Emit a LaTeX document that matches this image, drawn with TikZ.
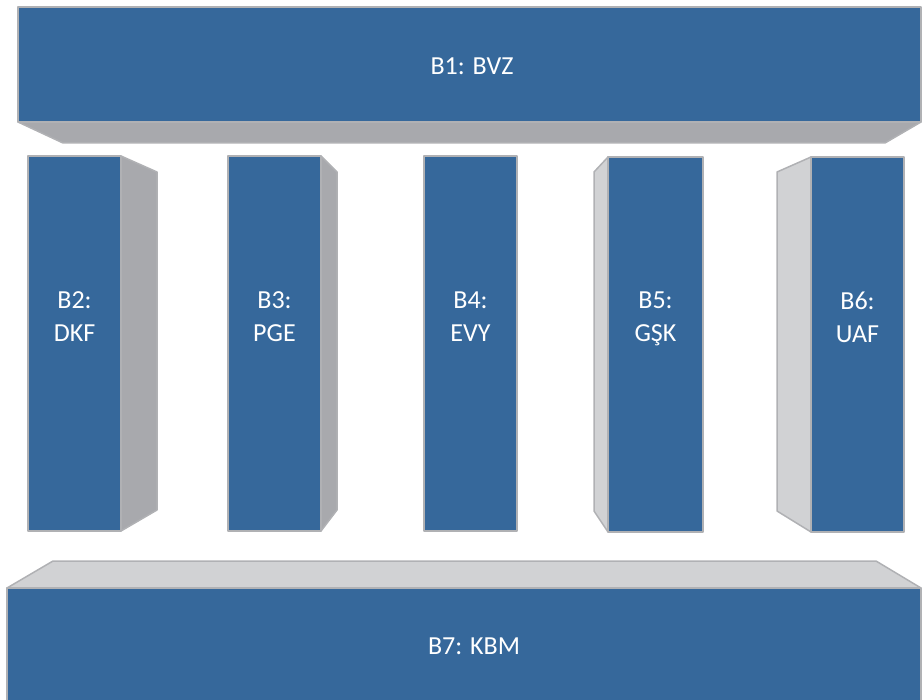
\documentclass[tikz,border=0pt]{standalone}
\usepackage{fontspec}
\setmainfont{Carlito}
\usetikzlibrary{positioning}
\definecolor{PLblue}{RGB}{54,104,155}
\definecolor{PLdark}{RGB}{168,169,173}
\definecolor{PLlight}{RGB}{209,210,212}
\definecolor{PLedge}{RGB}{176,177,180}

\begin{document}
\begin{tikzpicture}[x=1pt,y=-1pt,
    face/.style={draw=PLedge,line width=1.5pt,line join=round},
    lbl/.style={text=white,font=\fontsize{26}{33}\selectfont,align=center,text depth=0pt,inner sep=0pt}]
    \useasboundingbox (0,0) rectangle (923,700);
    % top beam
    \filldraw[face,fill=PLdark] (18,122)--(921,122)--(885,143)--(63,143)--cycle;
    \filldraw[face,fill=PLblue] (18,7) rectangle (921,122);
    \node[lbl] (b1) at (472,66.5) {B1: BVZ};
    % bottom beam
    \filldraw[face,fill=PLlight] (7,588)--(53,561)--(876,561)--(921,588)--cycle;
    \filldraw[face,fill=PLblue] (7,588) rectangle (921,703);
    \node[lbl] (b7) at (474,646) {B7: KBM};
    % sides of the pillars
    \filldraw[face,fill=PLdark] (121,156)--(157,172)--(157,510)--(121,531)--cycle;
    \filldraw[face,fill=PLdark] (321,156)--(337,172)--(337,510)--(321,531)--cycle;
    \filldraw[face,fill=PLlight] (608,157)--(594,172)--(594,511)--(608,532)--cycle;
    \filldraw[face,fill=PLlight] (811,157)--(777,172)--(777,511)--(811,532)--cycle;
    % pillars
    \foreach \x/\w/\t/\b/\name/\txt in {28/93/156/531/b2/{B2:\\DKF},228/93/156/531/b3/{B3:\\PGE},
        424/93/156/531/b4/{B4:\\EVY},608/95/157/532/b5/{B5:\\GŞK},811/93/157/532/b6/{B6:\\UAF}}{
      \filldraw[face,fill=PLblue] (\x,\t) rectangle (\x+\w,\b);
      \node[lbl] (\name) at (\x+\w/2,317) {\txt};
    }
\end{tikzpicture}
\end{document}
